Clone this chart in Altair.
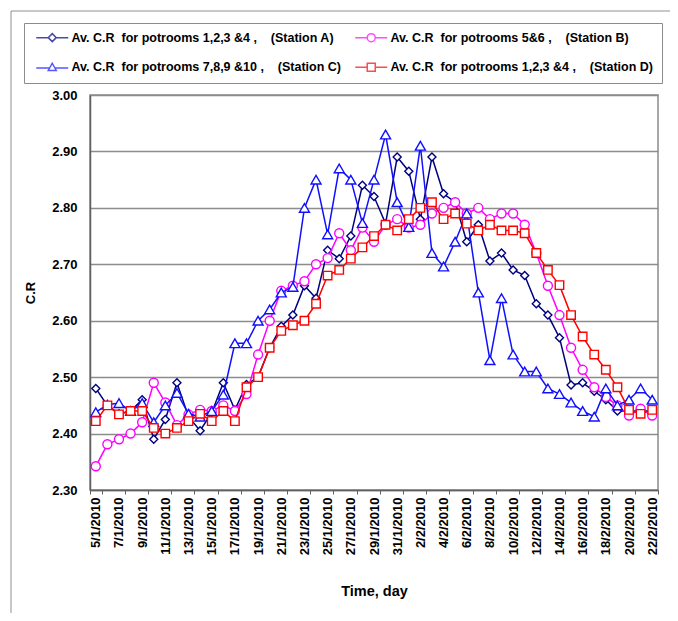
import altair as alt
import pandas as pd

# ---- categories (x axis) ----
dates = [
    "5/1/2010", "6/1/2010", "7/1/2010", "8/1/2010", "9/1/2010", "10/1/2010", "11/1/2010",
    "12/1/2010", "13/1/2010", "14/1/2010", "15/1/2010", "16/1/2010", "17/1/2010", "18/1/2010",
    "19/1/2010", "20/1/2010", "21/1/2010", "22/1/2010", "23/1/2010", "24/1/2010", "25/1/2010",
    "26/1/2010", "27/1/2010", "28/1/2010", "29/1/2010", "30/1/2010", "31/1/2010",
    "1/2/2010", "2/2/2010", "3/2/2010", "4/2/2010", "5/2/2010", "6/2/2010", "7/2/2010",
    "8/2/2010", "9/2/2010", "10/2/2010", "11/2/2010", "12/2/2010", "13/2/2010", "14/2/2010",
    "15/2/2010", "16/2/2010", "17/2/2010", "18/2/2010", "19/2/2010", "20/2/2010", "21/2/2010",
    "22/2/2010",
]
tick_dates = dates[::2]

# ---- series values ----
station_a = [2.48, 2.45, 2.435, 2.44, 2.46, 2.39, 2.425, 2.49, 2.43, 2.405,
             2.437, 2.49, 2.442, 2.487, 2.50, 2.552, 2.59, 2.61, 2.662, 2.64,
             2.725, 2.71, 2.75, 2.84, 2.82, 2.772, 2.89, 2.865, 2.78, 2.89,
             2.825, 2.81, 2.74, 2.77, 2.706, 2.72, 2.69, 2.68, 2.63, 2.61,
             2.57, 2.486, 2.49, 2.475, 2.46, 2.44, 2.44, 2.44, 2.44]
station_b = [2.342, 2.381, 2.39, 2.40, 2.42, 2.49, 2.455, 2.415, 2.434, 2.442,
             2.44, 2.45, 2.44, 2.47, 2.54, 2.60, 2.653, 2.662, 2.67, 2.70,
             2.711, 2.755, 2.725, 2.765, 2.74, 2.77, 2.78, 2.765, 2.77, 2.79,
             2.80, 2.81, 2.79, 2.80, 2.78, 2.79, 2.79, 2.77, 2.72, 2.662,
             2.61, 2.552, 2.513, 2.482, 2.465, 2.45, 2.432, 2.444, 2.432]
station_c = [2.438, 2.451, 2.454, 2.44, 2.454, 2.42, 2.45, 2.472, 2.435, 2.43,
             2.44, 2.469, 2.56, 2.56, 2.60, 2.62, 2.65, 2.66, 2.80, 2.85,
             2.753, 2.87, 2.85, 2.773, 2.85, 2.93, 2.81, 2.766, 2.91, 2.72,
             2.696, 2.74, 2.79, 2.65, 2.53, 2.64, 2.54, 2.51, 2.51, 2.48,
             2.47, 2.455, 2.44, 2.43, 2.48, 2.45, 2.46, 2.48, 2.46]
station_d = [2.422, 2.45, 2.434, 2.44, 2.44, 2.41, 2.40, 2.41, 2.422, 2.435,
             2.422, 2.44, 2.422, 2.482, 2.50, 2.552, 2.582, 2.592, 2.60, 2.63,
             2.68, 2.69, 2.71, 2.73, 2.75, 2.77, 2.76, 2.78, 2.80, 2.81,
             2.78, 2.79, 2.772, 2.76, 2.77, 2.76, 2.76, 2.755, 2.72, 2.69,
             2.663, 2.61, 2.572, 2.54, 2.513, 2.482, 2.442, 2.435, 2.442]

NB = "\u00a0"
name_a = "Av. C.R" + NB * 2 + "for potrooms 1,2,3 &4 ," + NB * 4 + "(Station A)"
name_b = "Av. C.R" + NB * 2 + "for potrooms 5&6 ," + NB * 4 + "(Station B)"
name_c = "Av. C.R" + NB * 2 + "for potrooms 7,8,9 &10 ," + NB * 4 + "(Station C)"
name_d = "Av. C.R" + NB * 2 + "for potrooms 1,2,3 &4 ," + NB * 4 + "(Station D)"

series_names = [name_a, name_b, name_c, name_d]
series_values = [station_a, station_b, station_c, station_d]
colors = ["#000080", "#FF00FF", "#1010FF", "#FF0000"]
shapes = ["diamond", "circle", "triangle-up", "square"]
sizes = [64, 81, 100, 72]

# legend symbols: short line with the marker in the middle
path_diamond = "M-4,0L-1,0M1,0L4,0M0,-1L1,0L0,1L-1,0Z"
path_circle = "M-4,0L-1,0M1,0L4,0M1,0A1,1,0,1,1,-1,0A1,1,0,1,1,1,0Z"
path_triangle = "M-4,0.2L-0.7,0.2M0.7,0.2L4,0.2M0,-1L1,0.8L-1,0.8Z"
path_square = "M-4,0L-1,0M1,0L4,0M-1,-1L1,-1L1,1L-1,1Z"

# legend fills column by column: A, C | B, D  -> rows (A, B) and (C, D)
legend_order = [name_a, name_c, name_b, name_d]
legend_colors = ["#000080", "#1010FF", "#FF00FF", "#FF0000"]
legend_paths = [path_diamond, path_triangle, path_circle, path_square]

rows = []
for name, vals in zip(series_names, series_values):
    for i, (d, v) in enumerate(zip(dates, vals)):
        rows.append({"date": d, "idx": i, "series": name, "value": v})
df = pd.DataFrame(rows)

FONT = "Liberation Sans"

x_enc = alt.X(
    "date:N",
    sort=dates,
    scale=alt.Scale(type="band", domain=dates, paddingInner=0, paddingOuter=0),
    axis=alt.Axis(
        values=tick_dates, tickBand="extent", labelAngle=270, grid=False,
        labelFont=FONT, labelFontSize=13, labelFontWeight="bold", labelColor="#000000",
        labelPadding=3, tickSize=4, tickColor="#606060", domainColor="#606060",
        domainWidth=1.5, title="Time, day", titleFont=FONT, titleFontSize=14.5,
        titleFontWeight="bold", titleColor="#000000", titlePadding=30,
    ),
)
y_enc = alt.Y(
    "value:Q",
    scale=alt.Scale(domain=[2.3, 3.0], nice=False, zero=False),
    axis=alt.Axis(
        values=[2.3, 2.4, 2.5, 2.6, 2.7, 2.8, 2.9, 3.0], format=".2f",
        grid=True, gridColor="#8c8c8c", gridWidth=1.3, tickSize=0,
        labelFont=FONT, labelFontSize=13, labelFontWeight="bold", labelColor="#000000",
        labelPadding=13, domainColor="#606060", domainWidth=1.5,
        title="C.R", titleFont=FONT, titleFontSize=13, titleFontWeight="bold",
        titleColor="#000000", titlePadding=14,
    ),
)

base = alt.Chart(df)
layers = []
for name, col, shp, sz in zip(series_names, colors, shapes, sizes):
    sub = base.transform_filter(alt.datum.series == name)
    layers.append(
        sub.mark_line(color=col, strokeWidth=1.5).encode(
            x=x_enc, y=y_enc, order=alt.Order("idx:Q")
        )
    )
    layers.append(
        sub.mark_point(shape=shp, size=sz, filled=False, fill="white",
                       color=col, strokeWidth=1.4, opacity=1).encode(x=x_enc, y=y_enc)
    )

leg = alt.Legend(
    title=None, orient="none", legendX=-66, legendY=-72, columns=2,
    columnPadding=10, rowPadding=15, padding=8, strokeColor="#8c8c8c",
    fillColor="#ffffff", symbolSize=64, symbolStrokeWidth=1.5, symbolOffset=14,
    labelOffset=13, labelFont=FONT, labelFontSize=12.5, labelFontWeight="bold",
    labelColor="#000000", labelLimit=400,
)
legend_layer = base.transform_filter("datum.value > 100").mark_point(
    filled=False, strokeWidth=1.5, size=64
).encode(
    x=x_enc, y=y_enc,
    color=alt.Color("series:N", sort=legend_order,
                    scale=alt.Scale(domain=legend_order, range=legend_colors), legend=leg),
    shape=alt.Shape("series:N", sort=legend_order,
                    scale=alt.Scale(domain=legend_order, range=legend_paths), legend=leg),
)

frame_df = pd.DataFrame({"k": [0]})
top_rule = alt.Chart(frame_df).mark_rule(color="#909090", strokeWidth=1).encode(
    x=alt.value(-79), x2=alt.value(600), y=alt.value(-84)
)
left_rule = alt.Chart(frame_df).mark_rule(color="#909090", strokeWidth=1).encode(
    x=alt.value(-79), y=alt.value(-84), y2=alt.value(520)
)

chart = alt.layer(top_rule, left_rule, *layers, legend_layer).properties(
    width=568, height=395,
    autosize=alt.AutoSizeParams(type="none"),
    padding={"left": 82, "top": 87, "right": 12, "bottom": 123},
).configure_view(stroke="#8c8c8c", strokeWidth=1.5)

chart.save("out.html", embed_options={"renderer": "svg", "actions": False})
